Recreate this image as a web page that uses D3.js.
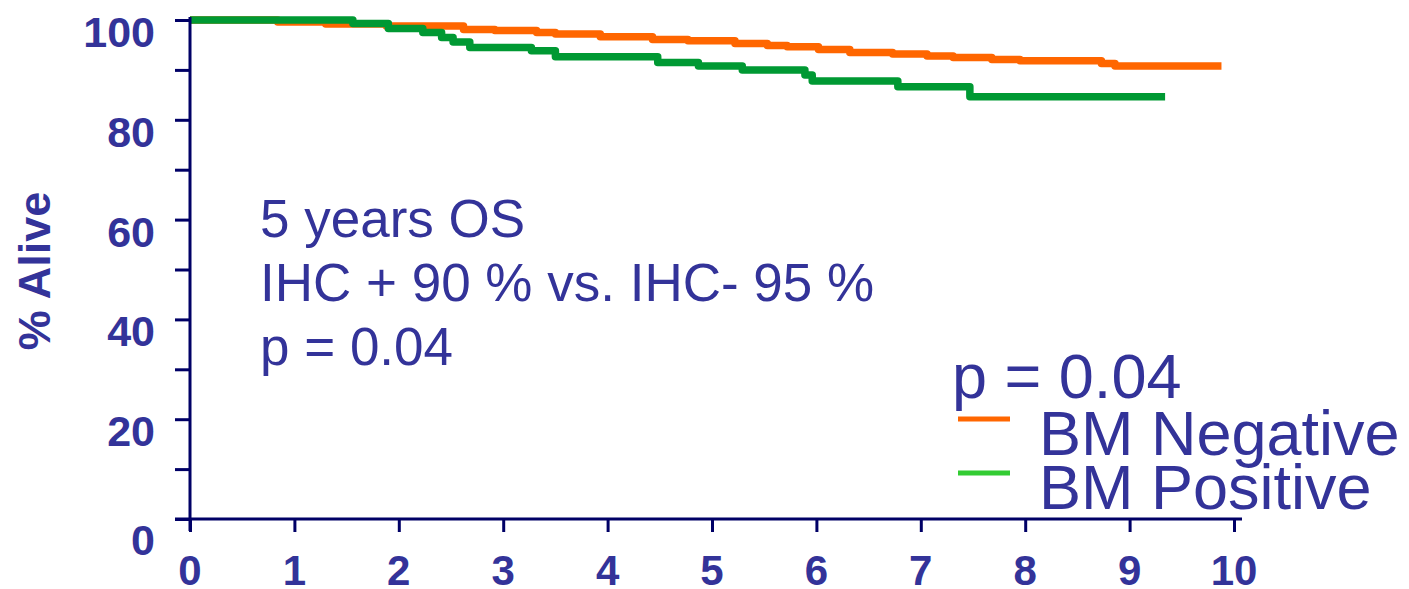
<!DOCTYPE html>
<html>
<head>
<meta charset="utf-8">
<script src="https://cdn.jsdelivr.net/npm/d3@7"></script>
<style>
  html, body { margin: 0; padding: 0; background: #ffffff; }
  svg { display: block; }
  text { font-family: "Liberation Sans", Arial, sans-serif; fill: #333399; }
</style>
</head>
<body>
<svg id="chart" width="1409" height="589"></svg>
<script>
// Kaplan-Meier overall survival by bone-marrow status (years vs. % alive)
const negTimes = [0, 0.84, 1.30, 1.88, 2.62, 2.92, 3.32, 3.50, 3.93, 4.43, 4.77, 5.22, 5.53, 5.72, 6.02, 6.32, 6.73, 7.06, 7.31, 7.68, 7.95, 8.73, 8.86, 9.88];
const negSurv  = [100, 99.6, 99.2, 98.8, 98.1, 97.9, 97.5, 97.2, 96.65, 96.1, 95.85, 95.3, 94.9, 94.65, 94.1, 93.5, 93.2, 92.8, 92.5, 92.1, 91.85, 91.3, 90.8, 90.8];

const posTimes = [0, 1.56, 1.90, 2.23, 2.41, 2.52, 2.68, 3.27, 3.50, 4.48, 4.87, 5.29, 5.89, 5.96, 6.78, 7.47, 9.34];
const posSurv  = [100, 99.3, 98.3, 97.5, 96.5, 95.6, 94.5, 93.85, 92.65, 91.5, 90.8, 90.0, 89.0, 87.8, 86.6, 84.6, 84.6];

const xTickValues = [0, 1, 2, 3, 4, 5, 6, 7, 8, 9, 10];
const yTickValues = [0, 10, 20, 30, 40, 50, 60, 70, 80, 90, 100];
const yLabelValues = [0, 20, 40, 60, 80, 100];

const seriesNames = ["BM Negative", "BM Positive"];
const seriesColors = ["#ff6600", "#009933"];
const legendColors = ["#ff6600", "#33cc33"];
const yAxisTitle = "% Alive";
const noteLines = ["5 years OS", "IHC + 90 % vs. IHC- 95 %", "p = 0.04"];
const legendTitle = "p = 0.04";

const axisColor = "#000066";
const svg = d3.select("#chart");

const x = d3.scaleLinear().domain([0, 10]).range([190, 1234]);
const y = d3.scaleLinear().domain([0, 100]).range([519, 20]);

// survival curves (orange underneath, green on top)
const line = d3.line()
  .x(d => x(d[0]))
  .y(d => y(d[1]))
  .curve(d3.curveStepAfter);

const series = [
  d3.zip(negTimes, negSurv),
  d3.zip(posTimes, posSurv)
];

svg.append("g").selectAll("path")
  .data(series)
  .join("path")
  .attr("d", line)
  .attr("fill", "none")
  .attr("stroke", (d, i) => seriesColors[i])
  .attr("stroke-width", 7.5)
  .attr("stroke-linejoin", "round")
  .attr("stroke-linecap", "butt");

// y axis: ticks every 10, labels every 20
const yAxis = d3.axisLeft(y)
  .tickValues(yTickValues)
  .tickSize(15)
  .tickSizeOuter(0)
  .tickFormat("");
const gy = svg.append("g").attr("transform", `translate(${x(0)},0)`).call(yAxis);
gy.select(".domain").remove();
gy.selectAll(".tick line").attr("stroke", axisColor).attr("stroke-width", 3);
svg.append("line")
  .attr("x1", x(0)).attr("x2", x(0))
  .attr("y1", y(100) - 3).attr("y2", y(0) + 12)
  .attr("stroke", axisColor).attr("stroke-width", 3);

svg.append("g").selectAll("text")
  .data(yLabelValues)
  .join("text")
  .attr("x", 155)
  .attr("y", d => y(d) + (d === 0 ? 36 : 27))
  .attr("text-anchor", "end")
  .attr("font-size", 43)
  .attr("font-weight", "bold")
  .text(d => d);

// x axis
const xAxis = d3.axisBottom(x)
  .tickValues(xTickValues)
  .tickSize(13)
  .tickSizeOuter(0)
  .tickFormat("");
const gx = svg.append("g").attr("transform", `translate(0,${y(0)})`).call(xAxis);
gx.select(".domain").remove();
gx.selectAll(".tick line").attr("stroke", axisColor).attr("stroke-width", 3);
svg.append("line")
  .attr("x1", x(0) - 15).attr("x2", x(10) + 8)
  .attr("y1", y(0)).attr("y2", y(0))
  .attr("stroke", axisColor).attr("stroke-width", 3);

svg.append("g").selectAll("text")
  .data(xTickValues)
  .join("text")
  .attr("x", d => x(d))
  .attr("y", 585)
  .attr("text-anchor", "middle")
  .attr("font-size", 42)
  .attr("font-weight", "bold")
  .text(d => d);

// y axis title
svg.append("text")
  .attr("transform", "translate(50,271) rotate(-90)")
  .attr("text-anchor", "middle")
  .attr("font-size", 45)
  .attr("font-weight", "bold")
  .text(yAxisTitle);

// annotation block
svg.append("g").selectAll("text")
  .data(noteLines)
  .join("text")
  .attr("x", 260)
  .attr("y", (d, i) => 237 + i * 64)
  .attr("font-size", 53)
  .text(d => d);

// legend
svg.append("text")
  .attr("x", 952)
  .attr("y", 398)
  .attr("font-size", 63)
  .text(legendTitle);

const legend = svg.append("g").selectAll("g")
  .data(seriesNames)
  .join("g")
  .attr("transform", (d, i) => `translate(958,${419 + i * 54})`);
legend.append("line")
  .attr("x1", 0).attr("x2", 52)
  .attr("y1", 0).attr("y2", 0)
  .attr("stroke", (d, i) => legendColors[i])
  .attr("stroke-width", 5);
legend.append("text")
  .attr("x", 81)
  .attr("y", 36)
  .attr("font-size", 63)
  .text(d => d);
</script>
</body>
</html>
